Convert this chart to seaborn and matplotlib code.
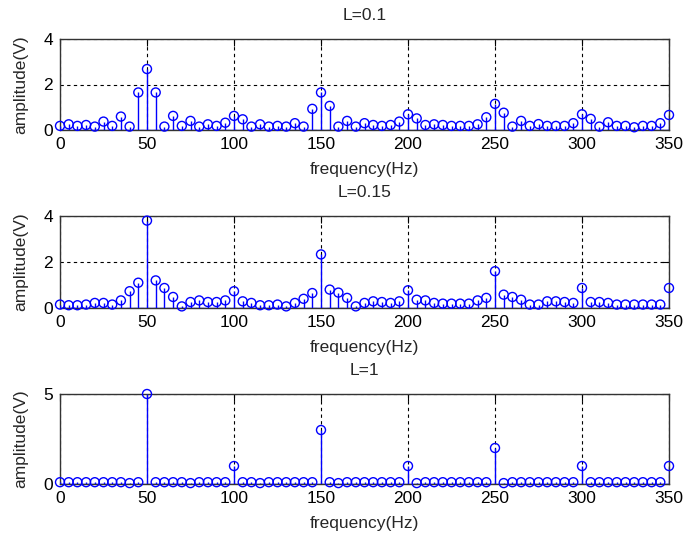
import matplotlib
matplotlib.use("Agg")
import matplotlib.pyplot as plt
import seaborn as sns
import pandas as pd

freq = [0, 5, 10, 15, 20, 25, 30, 35, 40, 45, 50, 55, 60, 65, 70, 75, 80, 85, 90, 95,
        100, 105, 110, 115, 120, 125, 130, 135, 140, 145, 150, 155, 160, 165, 170, 175,
        180, 185, 190, 195, 200, 205, 210, 215, 220, 225, 230, 235, 240, 245, 250, 255,
        260, 265, 270, 275, 280, 285, 290, 295, 300, 305, 310, 315, 320, 325, 330, 335,
        340, 345, 350]

amp_L01 = [0.18, 0.25, 0.18, 0.22, 0.15, 0.37, 0.18, 0.59, 0.15, 1.65, 2.68, 1.65,
           0.15, 0.62, 0.18, 0.40, 0.15, 0.25, 0.18, 0.32, 0.62, 0.47, 0.15, 0.25,
           0.15, 0.18, 0.15, 0.30, 0.15, 0.93, 1.65, 1.06, 0.15, 0.40, 0.15, 0.30,
           0.22, 0.18, 0.22, 0.37, 0.69, 0.51, 0.22, 0.25, 0.22, 0.18, 0.18, 0.18,
           0.25, 0.56, 1.15, 0.76, 0.15, 0.40, 0.18, 0.26, 0.18, 0.18, 0.18, 0.30,
           0.69, 0.49, 0.15, 0.34, 0.18, 0.18, 0.12, 0.18, 0.18, 0.30, 0.66]

amp_L015 = [0.15, 0.12, 0.12, 0.15, 0.22, 0.22, 0.15, 0.33, 0.73, 1.10, 3.80, 1.20,
            0.87, 0.48, 0.07, 0.26, 0.33, 0.26, 0.26, 0.33, 0.73, 0.29, 0.22, 0.12,
            0.12, 0.15, 0.07, 0.22, 0.40, 0.65, 2.33, 0.80, 0.67, 0.44, 0.07, 0.22,
            0.29, 0.26, 0.22, 0.29, 0.77, 0.36, 0.33, 0.22, 0.19, 0.19, 0.19, 0.19,
            0.33, 0.44, 1.60, 0.58, 0.48, 0.36, 0.15, 0.15, 0.29, 0.29, 0.26, 0.22,
            0.87, 0.26, 0.26, 0.22, 0.15, 0.15, 0.15, 0.15, 0.15, 0.15, 0.87]

amp_L1 = [0.10, 0.10, 0.10, 0.10, 0.10, 0.10, 0.10, 0.10, 0.05, 0.10, 5.00, 0.10,
          0.10, 0.10, 0.10, 0.05, 0.10, 0.10, 0.10, 0.10, 1.00, 0.10, 0.10, 0.05,
          0.10, 0.10, 0.10, 0.10, 0.10, 0.10, 3.00, 0.10, 0.05, 0.10, 0.10, 0.10,
          0.10, 0.10, 0.10, 0.10, 1.00, 0.05, 0.10, 0.10, 0.10, 0.10, 0.10, 0.10,
          0.10, 0.10, 2.00, 0.05, 0.10, 0.10, 0.10, 0.10, 0.10, 0.10, 0.10, 0.10,
          1.00, 0.10, 0.10, 0.10, 0.10, 0.10, 0.10, 0.10, 0.10, 0.10, 1.00]

titles = ["L=0.1", "L=0.15", "L=1"]
xticks = [0, 50, 100, 150, 200, 250, 300, 350]
yticks_list = [[0, 2, 4], [0, 2, 4], [0, 5]]
ylims = [(0, 4), (0, 4), (0, 5)]

sns.set_style("white")
plt.rcParams["font.family"] = ["Liberation Sans", "DejaVu Sans"]

W, H = 684, 537
fig = plt.figure(figsize=(W / 100, H / 100), dpi=100)
fig.patch.set_facecolor("white")

# axes boxes in pixels: (left, top, right, bottom)
boxes = [(60, 39, 669, 130), (60, 216, 669, 308), (60, 394, 669, 484)]
blue = "#0000FF"
fs = 12.5

for i, amps in enumerate([amp_L01, amp_L015, amp_L1]):
    l, t, r, b = boxes[i]
    ax = fig.add_axes([l / W, (H - b) / H, (r - l) / W, (b - t) / H])
    df = pd.DataFrame({"freq": freq, "amp": amps})
    ax.set_xlim(0, 350)
    ax.set_ylim(*ylims[i])
    ax.vlines(df["freq"], 0, df["amp"], color=blue, lw=1.0, zorder=3)
    ax.axhline(0, color=blue, lw=1.0, zorder=3)
    sns.scatterplot(data=df, x="freq", y="amp", ax=ax, marker="o", s=42,
                    facecolor="none", edgecolor=blue, linewidth=1.0,
                    zorder=4, clip_on=False, legend=False)
    ax.set_xticks(xticks)
    ax.set_yticks(yticks_list[i])
    ax.grid(True, color="black", linestyle=(0, (3, 3)), linewidth=0.8)
    ax.set_axisbelow(True)
    ax.tick_params(direction="in", length=5, width=0.8, top=True, right=True,
                   labelsize=fs, colors="black")
    ax.tick_params(axis="x", pad=5)
    ax.tick_params(axis="y", pad=5)
    for s in ax.spines.values():
        s.set_visible(True)
        s.set_color("#333333")
        s.set_linewidth(1.0)
    ax.set_title(titles[i], fontsize=fs, pad=14)
    ax.set_xlabel("frequency(Hz)", fontsize=fs, labelpad=7)
    ax.set_ylabel("amplitude(V)", fontsize=fs, labelpad=11)

fig.savefig("out.png", dpi=100, facecolor="white")
